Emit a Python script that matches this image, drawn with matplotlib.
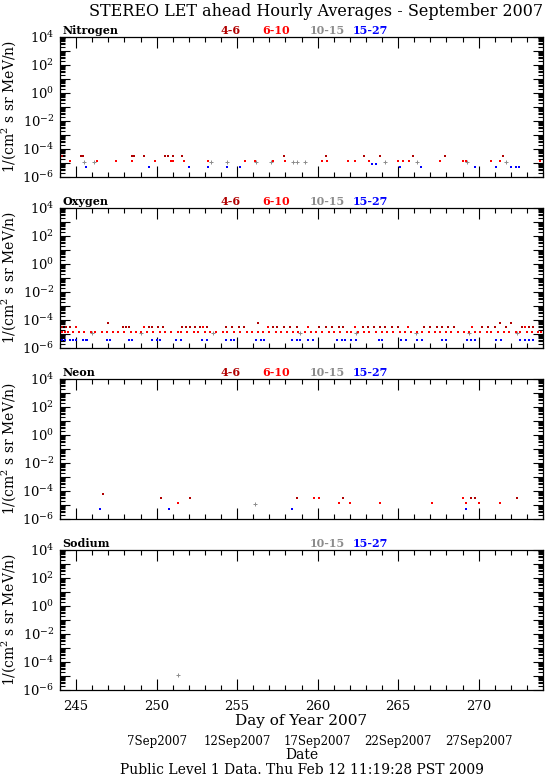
import matplotlib
matplotlib.use('Agg')
import matplotlib.pyplot as plt
from matplotlib.ticker import LogLocator, FuncFormatter, MultipleLocator, NullFormatter
import matplotlib.transforms as mtransforms

plt.rcParams['font.family'] = ['DejaVu Serif']
plt.rcParams['mathtext.fontset'] = 'dejavuserif'

# ---------------- data ----------------
energy_labels = ['4-6', '6-10', '10-15', '15-27']
energy_colors = ['#b00000', '#ff0000', '#8c8c8c', '#0000ff']
label_days = [254.6, 257.4, 260.6, 263.3]

# Nitrogen
n46_day = [244.1, 245.3, 245.4, 248.5, 248.6, 249.2, 250.5, 250.7, 251.0, 251.6,
           257.9, 260.5, 262.9, 263.9, 265.9, 267.9, 271.5]
n46_val = [3e-5] * 17
n610_day = [244.6, 246.3, 247.5, 248.5, 249.9, 250.7, 250.9, 251.0, 251.7, 253.2,
            255.5, 256.1, 257.2, 258.0, 260.3, 260.6, 261.9, 262.3, 263.2, 265.0,
            265.3, 265.7, 267.6, 269.0, 269.2, 270.8, 271.3, 273.8]
n610_val = [1.5e-5, 1.5e-5, 1.5e-5, 1.5e-5, 1.5e-5, 3e-5, 1.5e-5, 1.5e-5, 1.5e-5, 1.5e-5,
            1.5e-5, 1.5e-5, 1.5e-5, 1.5e-5, 1.5e-5, 1.5e-5, 1.5e-5, 1.5e-5, 1.5e-5, 1.5e-5,
            1.5e-5, 1.5e-5, 1.5e-5, 1.5e-5, 1.5e-5, 1.5e-5, 1.5e-5, 1.5e-5]
n1015_day = [245.5, 246.1, 253.4, 254.4, 256.2, 257.1, 258.5, 258.7, 259.2, 264.2,
             266.2, 269.3, 271.7]
n1015_val = [1.2e-5] * 13
n1527_day = [245.6, 249.5, 252.0, 253.2, 254.4, 255.2, 263.4, 263.6, 265.1, 266.4,
             269.8, 271.1, 272.0, 272.3, 272.5]
n1527_val = [5e-6, 5e-6, 5e-6, 5e-6, 5e-6, 5e-6, 9e-6, 9e-6, 5e-6, 5e-6,
             5e-6, 5e-6, 5e-6, 5e-6, 5e-6]

# Oxygen
o46_day = [244.1, 244.4, 244.6, 247.0, 247.9, 248.1, 248.3, 249.5, 249.7, 250.1,
           250.4, 251.6, 251.8, 252.1, 252.4, 252.7, 253.1, 254.3, 254.7, 255.1,
           255.4, 256.3, 257.2, 257.5, 257.9, 258.3, 258.7, 260.1, 260.5, 260.9,
           261.3, 261.6, 262.8, 263.1, 263.5, 263.9, 264.2, 264.6, 265.0, 266.6,
           267.0, 267.4, 267.7, 268.1, 268.5, 270.2, 270.6, 271.0, 271.3, 271.7,
           272.0, 272.7, 273.1, 273.4]
o46_val = [3e-5, 3e-5, 3e-5, 6e-5, 3e-5, 3e-5, 3e-5, 3e-5, 3e-5, 3e-5,
           3e-5, 3e-5, 3e-5, 3e-5, 3e-5, 3e-5, 3e-5, 3e-5, 3e-5, 3e-5,
           3e-5, 6e-5, 3e-5, 3e-5, 3e-5, 3e-5, 3e-5, 3e-5, 3e-5, 3e-5,
           3e-5, 3e-5, 3e-5, 3e-5, 3e-5, 3e-5, 3e-5, 3e-5, 3e-5, 3e-5,
           3e-5, 3e-5, 3e-5, 3e-5, 3e-5, 3e-5, 3e-5, 3e-5, 6e-5, 3e-5,
           6e-5, 3e-5, 3e-5, 3e-5]
o610_day = [244.1, 244.3, 244.5, 244.8, 245.0, 245.2, 245.5, 245.9, 246.2, 246.6,
            246.9, 247.3, 247.6, 248.0, 248.4, 248.7, 249.0, 249.2, 249.4, 249.8,
            250.2, 250.5, 250.9, 251.3, 251.5, 251.9, 252.3, 252.6, 252.9, 253.0,
            253.3, 253.7, 254.1, 254.4, 254.8, 255.2, 255.6, 255.9, 256.3, 256.6,
            256.9, 257.0, 257.4, 257.7, 258.1, 258.5, 258.8, 259.2, 259.4, 259.6,
            259.9, 260.3, 260.7, 261.0, 261.4, 261.8, 262.1, 262.3, 262.5, 262.9,
            263.2, 263.6, 264.0, 264.3, 264.7, 265.1, 265.4, 265.6, 265.8, 266.2,
            266.5, 266.9, 267.3, 267.6, 268.0, 268.3, 268.7, 269.1, 269.4, 269.6,
            269.8, 270.1, 270.5, 270.8, 271.2, 271.6, 271.9, 272.3, 272.6, 272.9,
            273.0, 273.3, 273.7, 273.9]
o610_val = [1.5e-5, 1.5e-5, 1.5e-5, 1.5e-5, 3e-5, 1.5e-5, 1.5e-5, 1.5e-5, 1.5e-5, 1.5e-5,
            1.5e-5, 1.5e-5, 1.5e-5, 1.5e-5, 1.5e-5, 1.5e-5, 1.5e-5, 3e-5, 1.5e-5, 1.5e-5,
            1.5e-5, 1.5e-5, 1.5e-5, 1.5e-5, 1.5e-5, 1.5e-5, 1.5e-5, 1.5e-5, 3e-5, 1.5e-5,
            1.5e-5, 1.5e-5, 1.5e-5, 1.5e-5, 1.5e-5, 1.5e-5, 1.5e-5, 1.5e-5, 1.5e-5, 1.5e-5,
            3e-5, 1.5e-5, 1.5e-5, 1.5e-5, 1.5e-5, 1.5e-5, 1.5e-5, 1.5e-5, 3e-5, 1.5e-5,
            1.5e-5, 1.5e-5, 1.5e-5, 1.5e-5, 1.5e-5, 1.5e-5, 1.5e-5, 3e-5, 1.5e-5, 1.5e-5,
            1.5e-5, 1.5e-5, 1.5e-5, 1.5e-5, 1.5e-5, 1.5e-5, 1.5e-5, 3e-5, 1.5e-5, 1.5e-5,
            1.5e-5, 1.5e-5, 1.5e-5, 1.5e-5, 1.5e-5, 1.5e-5, 1.5e-5, 1.5e-5, 1.5e-5, 3e-5,
            1.5e-5, 1.5e-5, 1.5e-5, 1.5e-5, 1.5e-5, 1.5e-5, 1.5e-5, 1.5e-5, 1.5e-5, 3e-5,
            1.5e-5, 1.5e-5, 1.5e-5, 1.5e-5]
o1015_day = [246.0, 249.0, 253.5, 258.9, 262.4, 266.1, 269.4, 272.4]
o1015_val = [1.2e-5] * 8
o1527_day = [244.1, 244.3, 244.6, 244.8, 245.0, 245.4, 245.6, 245.7, 246.9, 247.1,
             248.3, 248.5, 249.7, 250.0, 250.2, 251.2, 251.5, 252.8, 253.1, 254.3,
             254.6, 254.8, 256.2, 256.5, 256.7, 258.4, 258.7, 258.9, 259.4, 259.7,
             261.2, 261.5, 261.7, 262.1, 262.4, 263.8, 264.0, 265.2, 265.5, 266.2,
             266.5, 267.7, 268.0, 269.3, 269.5, 269.8, 271.1, 271.4, 272.6, 272.9,
             273.1, 273.4]
o1527_val = [4e-6] * 52

# Neon
ne46_day = [246.7, 250.3, 252.1, 258.7, 261.6, 269.5, 269.8, 272.4]
ne46_val = [6e-5, 3e-5, 3e-5, 3e-5, 3e-5, 3e-5, 3e-5, 3e-5]
ne610_day = [251.3, 259.8, 260.1, 261.3, 262.0, 263.9, 267.1, 269.0, 269.2, 270.0, 271.3]
ne610_val = [1.5e-5, 3e-5, 3e-5, 1.5e-5, 1.5e-5, 1.5e-5, 1.5e-5, 3e-5, 1.5e-5, 1.5e-5, 1.5e-5]
ne1015_day = [256.1]
ne1015_val = [1.2e-5]
ne1527_day = [246.5, 250.8, 258.4, 269.2]
ne1527_val = [5e-6, 5e-6, 5e-6, 5e-6]

# Sodium
na1015_day = [251.3]
na1015_val = [1.2e-5]

date_days = [250, 255, 260, 265, 270]
date_labels = ['7Sep2007', '12Sep2007', '17Sep2007', '22Sep2007', '27Sep2007']

panels = [
    ('Nitrogen', 37, [(n46_day, n46_val), (n610_day, n610_val), (n1015_day, n1015_val), (n1527_day, n1527_val)], [0, 1, 2, 3]),
    ('Oxygen', 208, [(o46_day, o46_val), (o610_day, o610_val), (o1015_day, o1015_val), (o1527_day, o1527_val)], [0, 1, 2, 3]),
    ('Neon', 379, [(ne46_day, ne46_val), (ne610_day, ne610_val), (ne1015_day, ne1015_val), (ne1527_day, ne1527_val)], [0, 1, 2, 3]),
    ('Sodium', 550, [([], []), ([], []), (na1015_day, na1015_val), ([], [])], [2, 3]),
]

# ---------------- figure ----------------
W, H = 551, 778
fig = plt.figure(figsize=(W / 100, H / 100), dpi=100)
L, R = 60, 543
PH = 140


def yfmt(v, pos):
    import math
    e = int(round(math.log10(v)))
    if e % 2 == 0:
        return r'$10^{%d}$' % e
    return ''


axes = []
for i, (name, top, series, shown) in enumerate(panels):
    ax = fig.add_axes([L / W, 1 - (top + PH) / H, (R - L) / W, PH / H])
    axes.append(ax)
    ax.set_xlim(244, 274)
    ax.set_yscale('log')
    ax.set_ylim(1e-6, 1e4)
    for k in [2, 3, 1, 0]:
        d, v = series[k]
        if not d:
            continue
        c = energy_colors[k]
        if k == 2:
            ax.plot(d, v, ls='none', marker='+', ms=3.2, mew=0.7, color=c)
        else:
            ax.plot(d, v, ls='none', marker='s', ms=1.7, mew=0, color=c)
    ax.xaxis.set_major_locator(MultipleLocator(5))
    ax.xaxis.set_minor_locator(MultipleLocator(1))
    ax.yaxis.set_major_locator(LogLocator(base=10, numticks=20))
    ax.yaxis.set_minor_locator(LogLocator(base=10, subs=range(2, 10), numticks=20))
    ax.yaxis.set_major_formatter(FuncFormatter(yfmt))
    ax.yaxis.set_minor_formatter(NullFormatter())
    ax.tick_params(which='both', direction='in', top=True, right=True, width=0.8)
    ax.tick_params(axis='x', which='major', length=8)
    ax.tick_params(axis='x', which='minor', length=3.5)
    ax.tick_params(axis='y', which='major', length=7, labelsize=9.5, pad=4)
    ax.tick_params(axis='y', which='minor', length=3.5)
    for s in ax.spines.values():
        s.set_linewidth(0.9)
    if i < 3:
        ax.set_xticklabels([])
    else:
        ax.tick_params(axis='x', which='major', labelsize=9.5, pad=7)
    ax.set_ylabel('1/(cm$^2$ s sr MeV/n)', fontsize=10)
    ax.yaxis.set_label_coords(-42 / (R - L), 0.5)
    ax.text(0.005, 1.008, name, transform=ax.transAxes, ha='left', va='bottom',
            fontsize=8, fontweight='bold')
    tr = mtransforms.blended_transform_factory(ax.transData, ax.transAxes)
    for k in shown:
        ax.text(label_days[k], 1.008, energy_labels[k], transform=tr, ha='center',
                va='bottom', fontsize=8, fontweight='bold', color=energy_colors[k])

fig.text(316 / W, 1 - 11 / H, 'STEREO LET ahead Hourly Averages - September 2007',
         ha='center', va='center', fontsize=11.5)

bax = axes[-1]
fig.text((L + R) / 2 / W, 1 - 721 / H, 'Day of Year 2007', ha='center', va='center', fontsize=11)
trd = mtransforms.blended_transform_factory(bax.transData, fig.transFigure)
for d, lab in zip(date_days, date_labels):
    bax.text(d, 1 - 742 / H, lab, transform=trd, ha='center', va='center', fontsize=8.5)
fig.text((L + R) / 2 / W, 1 - 755 / H, 'Date', ha='center', va='center', fontsize=10)
fig.text((L + R) / 2 / W, 1 - 770 / H, 'Public Level 1 Data. Thu Feb 12 11:19:28 PST 2009',
         ha='center', va='center', fontsize=10)

fig.savefig('out.png', dpi=100)
